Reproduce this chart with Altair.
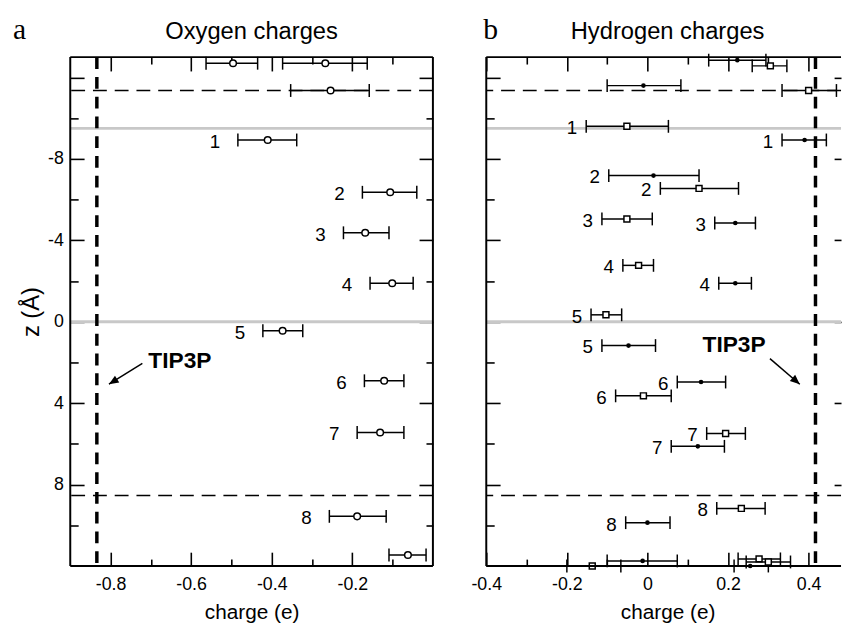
import altair as alt
import pandas as pd

FONT = "Liberation Sans"
SERIF = "Liberation Serif"

# ---------------- data ----------------
# panel a: oxygen charges (open circles)
ox_label = ["", "", "", "1", "2", "3", "4", "5", "6", "7", "8", ""]
ox_z = [-12.7, -12.7, -11.36, -8.93, -6.36, -4.37, -1.89, 0.44, 2.9, 5.44, 9.56, 11.46]
ox_q = [-0.496, -0.267, -0.254, -0.410, -0.106, -0.168, -0.101, -0.373, -0.121, -0.131, -0.188, -0.062]
ox_lo = [-0.563, -0.373, -0.353, -0.484, -0.175, -0.222, -0.156, -0.422, -0.170, -0.188, -0.257, -0.109]
ox_hi = [-0.435, -0.163, -0.158, -0.338, -0.040, -0.109, -0.049, -0.323, -0.072, -0.072, -0.116, -0.017]

# panel b: hydrogen charges, filled dots
hd_label = ["", "", "1", "2", "3", "4", "5", "6", "7", "8", "", ""]
hd_z = [-12.85, -11.6, -8.93, -7.18, -4.85, -1.89, 1.17, 2.96, 6.12, 9.87, 11.75, 12.0]
hd_q = [0.223, -0.010, 0.390, 0.015, 0.218, 0.218, -0.047, 0.133, 0.125, 0.000, -0.012, 0.255]
hd_lo = [0.152, -0.100, 0.334, -0.096, 0.167, 0.177, -0.113, 0.074, 0.059, -0.054, -0.100, 0.215]
hd_hi = [0.294, 0.083, 0.444, 0.128, 0.268, 0.258, 0.020, 0.194, 0.191, 0.056, 0.074, 0.300]

# panel b: hydrogen charges, open squares
hs_label = ["", "", "1", "2", "3", "4", "5", "6", "7", "8", "", "", ""]
hs_z = [-12.57, -11.36, -9.6, -6.55, -5.05, -2.77, -0.34, 3.64, 5.49, 9.17, 12.0, 11.65, 11.8]
hs_q = [0.305, 0.400, -0.051, 0.128, -0.051, -0.022, -0.103, -0.010, 0.194, 0.233, -0.137, 0.277, 0.300]
hs_lo = [0.260, 0.334, -0.152, 0.032, -0.113, -0.061, -0.140, -0.079, 0.147, 0.172, -0.200, 0.225, 0.245]
hs_hi = [0.346, 0.469, 0.052, 0.226, 0.012, 0.015, -0.064, 0.059, 0.243, 0.292, -0.066, 0.330, 0.355]

tip3p_o = -0.834
tip3p_h = 0.417
dashed_z = [-11.36, 8.54]
gray_z = [-9.5, 0.0]

# TIP3P annotations: text position, arrow start, arrow end
ann_a = {"t": ["TIP3P"], "tx": [-0.628], "tz": [2.28], "x1": [-0.721], "z1": [2.05],
         "x2": [-0.804], "z2": [3.07]}
ann_b = {"t": ["TIP3P"], "tx": [0.215], "tz": [1.5], "x1": [0.304], "z1": [1.81],
         "x2": [0.378], "z2": [3.07]}
angle_a = 238
angle_b = 131

z_major = [-12, -8, -4, 0, 4, 8]
z_minor = [-10, -6, -2, 2, 6, 10]
xa_major = [-0.8, -0.6, -0.4, -0.2]
xa_minor = [-0.7, -0.5, -0.3, -0.1]
xb_major = [-0.4, -0.2, 0.0, 0.2, 0.4]
xb_minor = [-0.3, -0.1, 0.1, 0.3]

# ---------------- layout ----------------
W_A = 367
W_B = 359
H = 515
Z_DOMAIN = [-13, 12]
XA_DOMAIN = [-0.9, 0.0]
XB_DOMAIN = [-0.4, -0.4 + 0.9 * W_B / W_A]

XL = "datum.value == 0 ? '0' : (datum.value < 0 ? '-' : '') + format(abs(datum.value), '.1f')"
YL = "datum.value == -12 ? '' : (datum.value < 0 ? '-' : '') + format(abs(datum.value), 'd')"

HEAD = "M0,0L0.42,1L-0.42,1Z"


def ax(orient, values, size, offset=None, labels=False, label_expr=None, title=None,
       title_size=21, title_pad=8, label_pad=10, title_x=None):
    d = dict(orient=orient, values=values, tickSize=size,
             offset=(-size if offset is None else offset),
             domain=False, grid=False, ticks=True, tickColor="black", tickWidth=1.6,
             labels=labels, title=title)
    if labels:
        d.update(labelExpr=label_expr, labelFont=FONT, labelFontSize=18, labelColor="black",
                 labelPadding=label_pad, labelFlush=False, labelOverlap=False)
    if title is not None:
        d.update(titleFont=FONT, titleFontSize=title_size, titleFontWeight="normal",
                 titleColor="black", titlePadding=title_pad)
        if title_x is not None:
            d["titleX"] = title_x
    return alt.Axis(**d)


zs = alt.Scale(domain=Z_DOMAIN, reverse=True, nice=False, zero=False)
one = pd.DataFrame({"k": [0]})


def frame(W, right=True):
    base = alt.Chart(one)
    parts = [
        base.mark_rule(color="black", strokeWidth=2).encode(
            x=alt.value(0), y=alt.value(0), y2=alt.value(H)),
        base.mark_rule(color="black", strokeWidth=2).encode(
            x=alt.value(0), x2=alt.value(W), y=alt.value(0)),
        base.mark_rule(color="black", strokeWidth=2).encode(
            x=alt.value(0), x2=alt.value(W), y=alt.value(H)),
    ]
    if right:
        parts.append(base.mark_rule(color="black", strokeWidth=2).encode(
            x=alt.value(W), y=alt.value(0), y2=alt.value(H)))
    return parts


def common(xs, tip):
    gray = alt.Chart(pd.DataFrame({"z": gray_z})).mark_rule(
        color="#c8c8c8", strokeWidth=3).encode(y=alt.Y("z:Q", scale=zs, axis=None))
    dash = alt.Chart(pd.DataFrame({"z": dashed_z})).mark_rule(
        color="black", strokeWidth=1.5, strokeDash=[14, 8]).encode(
        y=alt.Y("z:Q", scale=zs, axis=None))
    vline = alt.Chart(pd.DataFrame({"q": [tip]})).mark_rule(
        color="black", strokeWidth=3.5, strokeDash=[12, 8]).encode(
        x=alt.X("q:Q", scale=xs, axis=None))
    return [gray, dash, vline]


def annotation(ann, angle, xs):
    d = pd.DataFrame(ann)
    txt = alt.Chart(d).mark_text(font=FONT, fontSize=23, fontWeight="bold", align="center",
                                 baseline="alphabetic", color="black").encode(
        x=alt.X("tx:Q", scale=xs, axis=None), y=alt.Y("tz:Q", scale=zs, axis=None), text="t:N")
    line = alt.Chart(d).mark_rule(color="black", strokeWidth=1.5).encode(
        x=alt.X("x1:Q", scale=xs, axis=None), y=alt.Y("z1:Q", scale=zs, axis=None),
        x2="x2:Q", y2="z2:Q")
    head = alt.Chart(d).mark_point(shape=HEAD, size=380, filled=True, color="black",
                                   opacity=1, angle=angle).encode(
        x=alt.X("x2:Q", scale=xs, axis=None), y=alt.Y("z2:Q", scale=zs, axis=None))
    return [line, head, txt]


def heading(title, tag, tag_x, title_x):
    t1 = alt.Chart(pd.DataFrame({"t": [title]})).mark_text(
        font=FONT, fontSize=24, align="center", baseline="alphabetic", color="black").encode(
        x=alt.value(title_x), y=alt.value(-18), text="t:N")
    t2 = alt.Chart(pd.DataFrame({"t": [tag]})).mark_text(
        font=SERIF, fontSize=30, align="left", baseline="alphabetic", color="black").encode(
        x=alt.value(tag_x), y=alt.value(-18), text="t:N")
    return [t1, t2]


# ---------------- panel a ----------------
xs_a = alt.Scale(domain=XA_DOMAIN, nice=False, zero=False)
df_a = pd.DataFrame({"label": ox_label, "z": ox_z, "q": ox_q, "lo": ox_lo, "hi": ox_hi})

bars_a = alt.Chart(df_a).mark_rule(color="black", strokeWidth=1.5).encode(
    x=alt.X("lo:Q", scale=xs_a,
            axis=ax("bottom", xa_major, 14, labels=True, label_expr=XL, title="charge (e)")),
    x2="hi:Q",
    y=alt.Y("z:Q", scale=zs,
            axis=ax("left", z_major, 14, labels=True, label_expr=YL, title="z (Å)",
                    title_size=24, title_pad=4, label_pad=7)))
caplo_a = alt.Chart(df_a).mark_tick(orient="vertical", color="black", size=13, thickness=1.5,
                                    opacity=1).encode(
    x=alt.X("lo:Q", scale=xs_a, axis=ax("bottom", xa_minor, 7)),
    y=alt.Y("z:Q", scale=zs, axis=ax("left", z_minor, 8)))
caphi_a = alt.Chart(df_a).mark_tick(orient="vertical", color="black", size=13, thickness=1.5,
                                    opacity=1).encode(
    x=alt.X("hi:Q", scale=xs_a, axis=ax("top", xa_major, 14)),
    y=alt.Y("z:Q", scale=zs, axis=ax("right", z_major, 14)))
pts_a = alt.Chart(df_a).mark_point(shape="circle", size=45, fill="white", stroke="black",
                                   strokeWidth=1.5, opacity=1, fillOpacity=1).encode(
    x=alt.X("q:Q", scale=xs_a, axis=ax("top", xa_minor, 7)),
    y=alt.Y("z:Q", scale=zs, axis=ax("right", z_minor, 7)))
lbl_a = alt.Chart(df_a).mark_text(align="right", baseline="middle", dx=-18, dy=2, font=FONT,
                                  fontSize=19, color="black").encode(
    x=alt.X("lo:Q", scale=xs_a, axis=None), y=alt.Y("z:Q", scale=zs, axis=None),
    text="label:N")

panel_a = alt.layer(
    *common(xs_a, tip3p_o), bars_a, caplo_a, caphi_a, pts_a, lbl_a,
    *annotation(ann_a, angle_a, xs_a), *frame(W_A, True),
    *heading("Oxygen charges", "a", -58, W_A / 2),
).resolve_axis(x="independent", y="independent").properties(width=W_A, height=H)

# ---------------- panel b ----------------
xs_b = alt.Scale(domain=XB_DOMAIN, nice=False, zero=False)
df_d = pd.DataFrame({"label": hd_label, "z": hd_z, "q": hd_q, "lo": hd_lo, "hi": hd_hi})
df_s = pd.DataFrame({"label": hs_label, "z": hs_z, "q": hs_q, "lo": hs_lo, "hi": hs_hi})
df_b = pd.concat([df_d, df_s], ignore_index=True)

bars_b = alt.Chart(df_b).mark_rule(color="black", strokeWidth=1.5).encode(
    x=alt.X("lo:Q", scale=xs_b,
            axis=ax("bottom", xb_major, 14, labels=True, label_expr=XL, title="charge (e)",
                    title_x=W_A / 2)),
    x2="hi:Q",
    y=alt.Y("z:Q", scale=zs, axis=ax("left", z_major, 14)))
caplo_b = alt.Chart(df_b).mark_tick(orient="vertical", color="black", size=13, thickness=1.5,
                                    opacity=1).encode(
    x=alt.X("lo:Q", scale=xs_b, axis=ax("bottom", xb_minor, 7)),
    y=alt.Y("z:Q", scale=zs, axis=ax("left", z_minor, 8)))
caphi_b = alt.Chart(df_b).mark_tick(orient="vertical", color="black", size=13, thickness=1.5,
                                    opacity=1).encode(
    x=alt.X("hi:Q", scale=xs_b, axis=ax("top", xb_major, 14)),
    y=alt.Y("z:Q", scale=zs, axis=ax("right", z_major, 7)))
dots_b = alt.Chart(df_d).mark_point(shape="circle", size=22, filled=True, color="black",
                                    opacity=1).encode(
    x=alt.X("q:Q", scale=xs_b, axis=ax("top", xb_minor, 7)),
    y=alt.Y("z:Q", scale=zs, axis=None))
sq_b = alt.Chart(df_s).mark_point(shape="square", size=36, fill="white", stroke="black",
                                  strokeWidth=1.5, opacity=1, fillOpacity=1).encode(
    x=alt.X("q:Q", scale=xs_b, axis=None), y=alt.Y("z:Q", scale=zs, axis=None))
lbl_b = alt.Chart(df_b).mark_text(align="right", baseline="middle", dx=-9, dy=2, font=FONT,
                                  fontSize=19, color="black").encode(
    x=alt.X("lo:Q", scale=xs_b, axis=None), y=alt.Y("z:Q", scale=zs, axis=None),
    text="label:N")

panel_b = alt.layer(
    *common(xs_b, tip3p_h), bars_b, caplo_b, caphi_b, dots_b, sq_b, lbl_b,
    *annotation(ann_b, angle_b, xs_b), *frame(W_B, False),
    *heading("Hydrogen charges", "b", -3, W_A / 2),
).resolve_axis(x="independent", y="independent").properties(width=W_B, height=H)

chart = alt.hconcat(panel_a, panel_b, spacing=54, bounds="flush").properties(
    padding={"left": 4, "top": 3, "right": 0, "bottom": 0}
).configure_view(stroke="transparent")

chart.save("out.html", embed_options={"renderer": "svg", "actions": False})
